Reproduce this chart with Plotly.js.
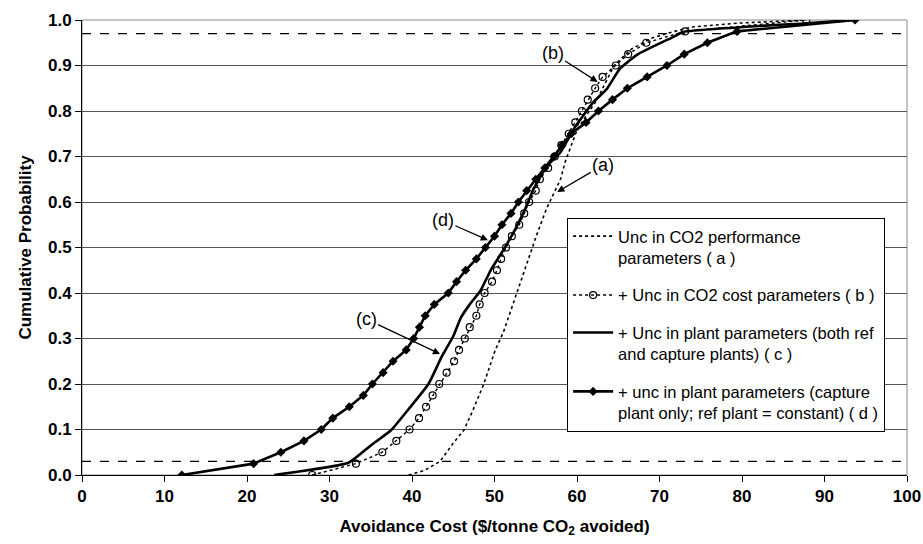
<!DOCTYPE html>
<html>
<head>
<meta charset="utf-8">
<script src="https://cdn.plot.ly/plotly-3.0.1.min.js"></script>
<style>html,body{margin:0;padding:0;background:#fff;}#chart{width:923px;height:544px;}</style>
</head>
<body>
<div id="chart"></div>
<script>
// Cumulative probability levels for the marked series (every 0.025)
const probSteps = [0,0.025,0.05,0.075,0.1,0.125,0.15,0.175,0.2,0.225,0.25,0.275,0.3,0.325,0.35,0.375,0.4,0.425,0.45,0.475,0.5,0.525,0.55,0.575,0.6,0.625,0.65,0.675,0.7,0.725,0.75,0.775,0.8,0.825,0.85,0.875,0.9,0.925,0.95,0.975,1.0];

// (a) Unc in CO2 performance parameters
const aCost = [39.6,41.5,43.4,45.0,46.3,47.4,48.7,50.1,51.1,52.7,53.9,55.1,56.3,57.2,58.0,58.6,60.0,61.2,62.4,63.2,64.5,66.5,69.0,71.8,74.1,79.4,87.8];
const aProb = [0,0.01,0.03,0.07,0.099,0.143,0.2,0.275,0.315,0.399,0.465,0.527,0.585,0.62,0.65,0.69,0.758,0.792,0.824,0.853,0.9,0.935,0.96,0.975,0.985,0.993,1.0];

// (b) + Unc in CO2 cost parameters
const bCost = [27.9,33.2,36.4,38.1,39.7,40.85,41.7,42.5,43.3,44.2,45.1,45.7,46.4,47.0,47.8,48.2,48.8,49.7,50.3,50.8,51.4,52.1,53.0,53.6,54.2,55.0,55.5,56.5,57.3,58.1,59.0,59.8,60.6,61.3,62.2,63.1,64.7,66.2,68.4,73.1,87.8];

// (c) + Unc in plant parameters (both ref and capture plants)
const cCost = [23.3,32.3,35.0,37.5,39.6,42.0,43.6,45.0,45.9,47.0,48.3,49.6,51.1,52.5,53.6,54.7,56.3,57.9,59.8,62.0,63.6,65.2,67.4,71.7,72.9,87.8,93.7];
const cProb = [0,0.027,0.065,0.099,0.145,0.2,0.26,0.305,0.345,0.375,0.405,0.452,0.495,0.54,0.58,0.627,0.678,0.707,0.766,0.82,0.848,0.893,0.925,0.963,0.974,0.993,1.0];

// (d) + unc in plant parameters (capture plant only; ref plant = constant)
const dCost = [12.1,20.8,24.1,26.9,29.0,30.4,32.4,34.1,35.2,36.5,37.7,39.3,40.2,40.9,41.6,42.7,44.4,45.4,46.5,47.8,48.9,50.0,50.9,52.0,52.9,53.9,55.0,56.1,57.2,58.2,59.3,61.1,62.6,64.3,66.1,68.5,70.9,73.0,75.8,79.4,93.7];

const seriesNames = [
  "Unc in CO2 performance<br>parameters ( a )",
  "+ Unc in CO2 cost parameters ( b )",
  "+ Unc in plant parameters (both ref<br>and capture plants) ( c )",
  "+ unc in plant parameters (capture<br>plant only; ref plant = constant) ( d )"
];
const xTicks = [0,10,20,30,40,50,60,70,80,90,100];
const xTickLabels = ["0","10","20","30","40","50","60","70","80","90","100"];
const yTicks = [0,0.1,0.2,0.3,0.4,0.5,0.6,0.7,0.8,0.9,1.0];
const yTickLabels = ["0.0","0.1","0.2","0.3","0.4","0.5","0.6","0.7","0.8","0.9","1.0"];
const confLevels = [0.03, 0.97];

const FONT = "Liberation Sans, Arial, Helvetica, sans-serif";

const traces = [
  {x: aCost, y: aProb, name: seriesNames[0], mode: "lines", legendgroup: "a",
   line: {color: "#000", width: 1.6, dash: "dot"}},
  {x: bCost, y: probSteps, name: seriesNames[1], mode: "lines+markers", legendgroup: "b",
   line: {color: "#000", width: 1.4, dash: "dot"},
   marker: {symbol: "circle-open", size: 7, color: "#000", line: {width: 1.2}}},
  {x: cCost, y: cProb, name: seriesNames[2], mode: "lines", legendgroup: "c",
   line: {color: "#000", width: 2.6, shape: "spline", smoothing: 0.4}},
  {x: dCost, y: probSteps, name: seriesNames[3], mode: "lines+markers", legendgroup: "d",
   line: {color: "#000", width: 2.6},
   marker: {symbol: "diamond", size: 7, color: "#000"}}
];

const shapes = confLevels.map(v => ({
  type: "line", xref: "paper", x0: 0, x1: 1, yref: "y", y0: v, y1: v,
  line: {color: "#000", width: 1.2, dash: "dash"}
}));
shapes.push({type: "rect", xref: "paper", yref: "paper", x0: 0, x1: 1, y0: 0, y1: 1,
  line: {color: "#888", width: 1}, layer: "below"});

const annFont = {family: FONT, size: 18, color: "#000"};
const annBase = {xref: "x", yref: "y", axref: "pixel", ayref: "pixel", showarrow: true,
  arrowhead: 2, arrowsize: 1.1, arrowwidth: 1.3, arrowcolor: "#000", font: annFont, standoff: 0};
const annotations = [
  Object.assign({}, annBase, {x: 57.6, y: 0.622, ax: 46, ay: -27, text: "(a)"}),
  Object.assign({}, annBase, {x: 62.5, y: 0.864, ax: -45, ay: -29, text: "(b)"}),
  Object.assign({}, annBase, {x: 43.4, y: 0.266, ax: -74, ay: -35, text: "(c)"}),
  Object.assign({}, annBase, {x: 49.2, y: 0.516, ax: -45, ay: -20, text: "(d)"})
];

const tickFont = {family: FONT, size: 17, color: "#000"};
const bold = s => "<b>" + s + "</b>";

const layout = {
  width: 923, height: 544,
  margin: {l: 82, r: 16, t: 20, b: 69},
  paper_bgcolor: "#fff", plot_bgcolor: "#fff",
  font: {family: FONT, color: "#000"},
  showlegend: true,
  legend: {x: 0.588, y: 0.565, xanchor: "left", yanchor: "top",
    bgcolor: "#fff", bordercolor: "#000", borderwidth: 1,
    font: {family: FONT, size: 16.5, color: "#000"},
    valign: "top", tracegroupgap: 13, itemwidth: 40},
  xaxis: {range: [0, 100], tickmode: "array", tickvals: xTicks, ticktext: xTickLabels.map(bold),
    ticks: "outside", ticklen: 6, tickcolor: "#000",
    showgrid: false, zeroline: false, showline: true, linecolor: "#000", linewidth: 1,
    tickfont: tickFont,
    title: {text: "Avoidance Cost ($/tonne CO<sub>2</sub> avoided)", font: {family: FONT, size: 17, color: "#000", weight: 700}, standoff: 14}},
  yaxis: {range: [0, 1], tickmode: "array", tickvals: yTicks, ticktext: yTickLabels.map(bold),
    ticks: "outside", ticklen: 6, tickcolor: "#000",
    showgrid: true, gridcolor: "#555", gridwidth: 1, zeroline: false, showline: true, linecolor: "#000", linewidth: 1,
    tickfont: tickFont,
    title: {text: "Cumulative Probability", font: {family: FONT, size: 17, color: "#000", weight: 700}, standoff: 12}},
  shapes: shapes,
  annotations: annotations
};

Plotly.newPlot("chart", traces, layout, {staticPlot: true, displayModeBar: false});
</script>
</body>
</html>
